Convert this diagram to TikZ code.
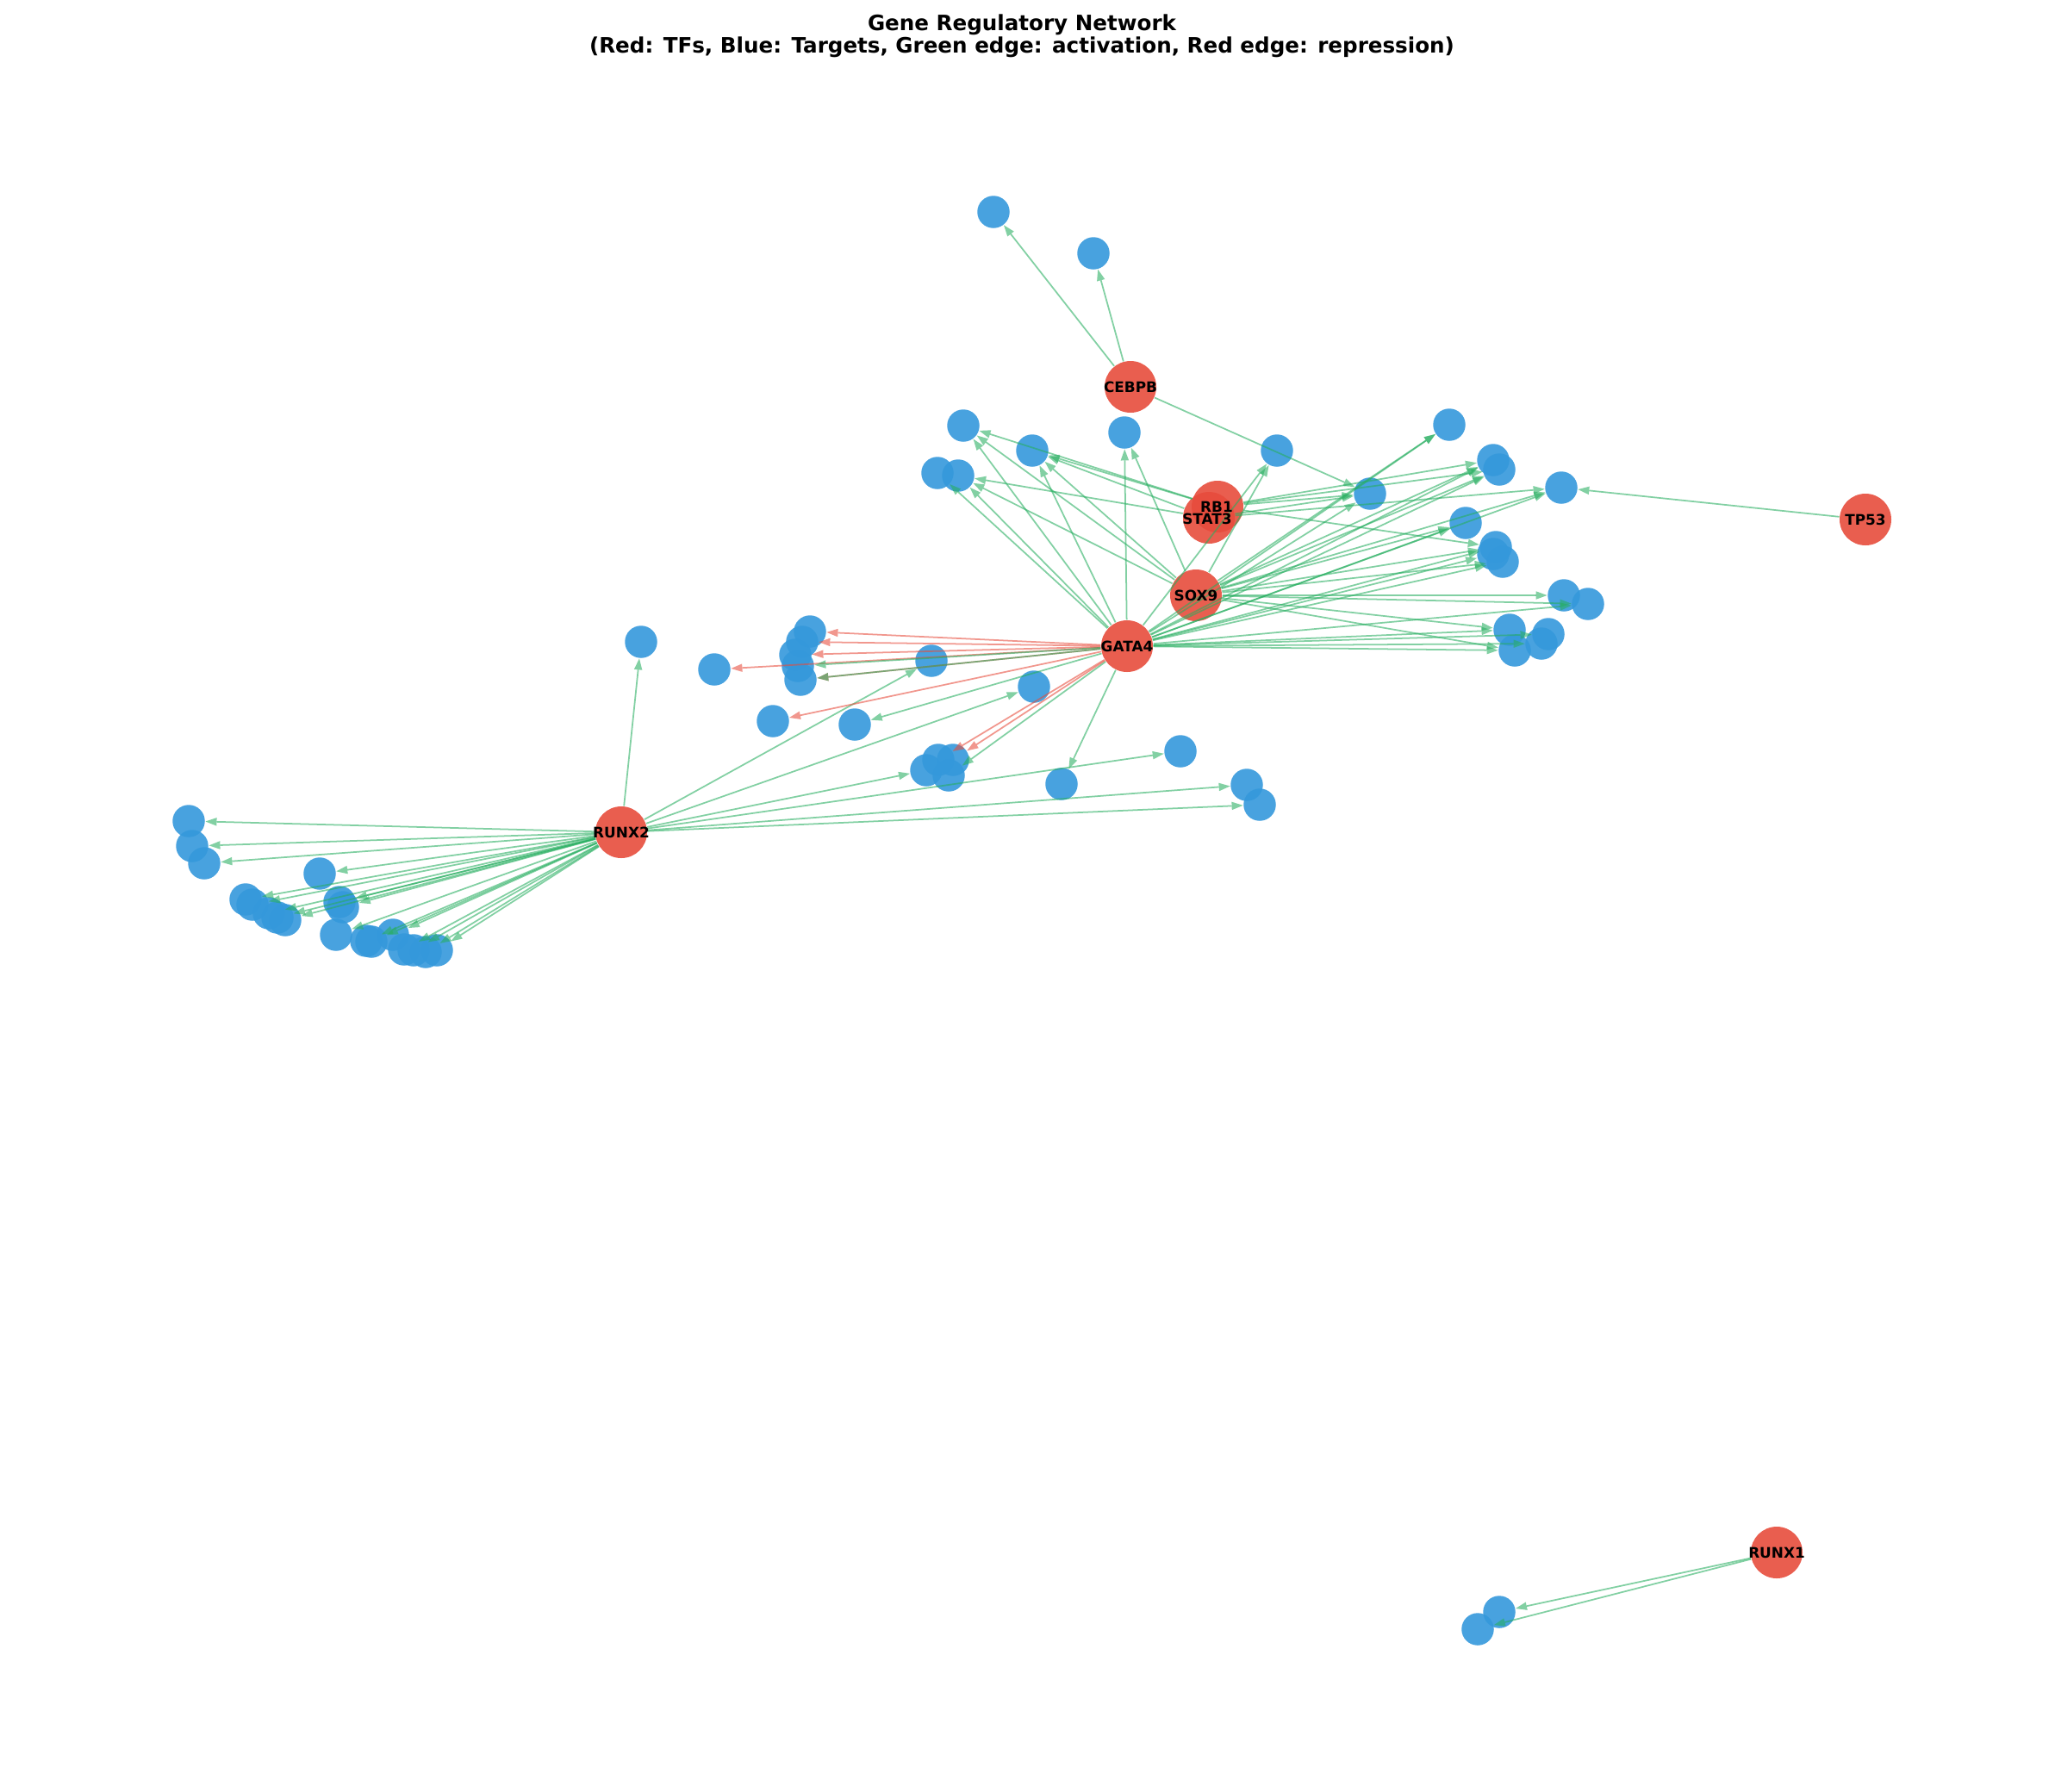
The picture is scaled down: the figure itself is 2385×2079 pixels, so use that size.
\documentclass[tikz,border=0pt]{standalone}
\usepackage{fontspec}
\setmainfont{DejaVu Sans}
\usetikzlibrary{arrows.meta}
\definecolor{tfred}{HTML}{E74C3C}
\definecolor{tgblue}{HTML}{3498DB}
\definecolor{actgreen}{HTML}{27AE60}

\begin{document}
\begin{tikzpicture}[x=0.1mm,y=-0.1mm,>={Triangle[length=1.3mm,width=0.95mm,line width=0pt]}]
	\tikzstyle{tf} = [circle, fill=tfred, fill opacity=0.9, minimum size=6mm, inner sep=0pt]
	\tikzstyle{tg} = [circle, fill=tgblue, fill opacity=0.9, minimum size=3.75mm, inner sep=0pt]
	\tikzstyle{tflab} = [font=\bfseries\fontsize{4.8}{5.5}\selectfont, inner sep=0pt]
	\tikzstyle{act} = [->, color=actgreen, opacity=0.58, line width=0.5pt]
	\tikzstyle{rep} = [->, color=tfred, opacity=0.58, line width=0.5pt]
	\useasboundingbox (0,0) rectangle (2385,2079);

	\node [font=\bfseries\fontsize{7}{7.4}\selectfont, align=center] (title) at (1186,42) {Gene Regulatory Network\\(Red: TFs, Blue: Targets, Green edge: activation, Red edge: repression)};

	% transcription factors
	\node [tf] (cebpb) at (1312,449) {};
	\node [tf] (rb1) at (1413,588) {};
	\node [tf] (stat3) at (1403,601) {};
	\node [tf] (sox9) at (1388,691) {};
	\node [tf] (gata4) at (1308,750) {};
	\node [tf] (tp53) at (2165,603) {};
	\node [tf] (runx2) at (721,966) {};
	\node [tf] (runx1) at (2062,1802) {};

	% targets, upper right
	\node [tg] (t1) at (1153,246) {};
	\node [tg] (t2) at (1269,294) {};
	\node [tg] (t3) at (1305,502) {};
	\node [tg] (t4) at (1118,494) {};
	\node [tg] (t5) at (1198,523) {};
	\node [tg] (t6) at (1088,549) {};
	\node [tg] (t7) at (1112,552) {};
	\node [tg] (t8) at (1482,523) {};
	\node [tg] (t9) at (1590,573) {};
	\node [tg] (t10) at (1682,493) {};
	\node [tg] (t11) at (1733,534) {};
	\node [tg] (t12) at (1740,545) {};
	\node [tg] (t13) at (1812,566) {};
	\node [tg] (t14) at (1701,607) {};
	\node [tg] (t15) at (1736,635) {};
	\node [tg] (t16) at (1733,643) {};
	\node [tg] (t17) at (1744,652) {};
	\node [tg] (t18) at (1815,691) {};
	\node [tg] (t19) at (1843,701) {};
	\node [tg] (t20) at (1752,731) {};
	\node [tg] (t21) at (1758,755) {};
	\node [tg] (t22) at (1797,736) {};
	\node [tg] (t23) at (1789,747) {};

	% targets, middle
	\node [tg] (c1) at (940,733) {};
	\node [tg] (c2) at (931,745) {};
	\node [tg] (c3) at (923,760) {};
	\node [tg] (c4) at (926,773) {};
	\node [tg] (c5) at (929,789) {};
	\node [tg] (d1) at (829,777) {};
	\node [tg] (d2) at (1081,767) {};
	\node [tg] (d3) at (897,837) {};
	\node [tg] (d4) at (992,841) {};
	\node [tg] (d5) at (1200,797) {};
	\node [tg] (d6a) at (1075,894) {};
	\node [tg] (d6b) at (1089,882) {};
	\node [tg] (d6c) at (1106,882) {};
	\node [tg] (d6d) at (1101,900) {};
	\node [tg] (d7) at (1232,910) {};
	\node [tg] (d8) at (1370,872) {};
	\node [tg] (d9) at (1447,911) {};
	\node [tg] (d10) at (1462,934) {};
	\node [tg] (e1) at (744,745) {};

	% targets, left
	\node [tg] (f1) at (219,953) {};
	\node [tg] (f2) at (223,982) {};
	\node [tg] (f3) at (237,1002) {};
	\node [tg] (f4) at (371,1014) {};
	\node [tg] (f5) at (285,1044) {};
	\node [tg] (f6) at (293,1050) {};
	\node [tg] (f7) at (312,1060) {};
	\node [tg] (f8) at (322,1065) {};
	\node [tg] (f9) at (331,1068) {};
	\node [tg] (f10) at (394,1047) {};
	\node [tg] (f11) at (398,1053) {};
	\node [tg] (f12) at (390,1085) {};
	\node [tg] (f13) at (425,1092) {};
	\node [tg] (f14) at (431,1093) {};
	\node [tg] (f15) at (456,1085) {};
	\node [tg] (f16) at (469,1102) {};
	\node [tg] (f17) at (480,1103) {};
	\node [tg] (f18) at (494,1105) {};
	\node [tg] (f19) at (507,1103) {};

	% targets, bottom right
	\node [tg] (g1) at (1740,1871) {};
	\node [tg] (g2) at (1715,1891) {};

	% edges
	\draw [act] (cebpb) edge (t1) edge (t2) edge (t9);
	\draw [act] (tp53) edge (t13);
	\draw [act] (runx1) edge (g1) edge (g2);
	\draw [act] (runx2) edge (e1) edge (d2) edge (d5) edge (d6a) edge (d8) edge (d9) edge (d10);
	\draw [act] (runx2) edge (f1) edge (f2) edge (f3) edge (f4) edge (f5) edge (f6) edge (f7) edge (f8) edge (f9) edge (f10);
	\draw [act] (runx2) edge (f11) edge (f12) edge (f13) edge (f14) edge (f15) edge (f16) edge (f17) edge (f18) edge (f19);
	\draw [rep] (gata4) edge (c1) edge (c2) edge (c3) edge (c5) edge (d1) edge (d3) edge (d6b) edge (d6c);
	\draw [act] (gata4) edge (c4) edge (c5) edge (d4) edge (d7) edge (d6d);
	\draw [act] (gata4) edge (t3) edge (t4) edge (t5) edge (t6) edge (t7) edge (t8) edge (t9) edge (t10) edge (t11) edge (t12) edge (t13);
	\draw [act] (gata4) edge (t14) edge (t15) edge (t16) edge (t17) edge (t19) edge (t20) edge (t21) edge (t22) edge (t23);
	\draw [act] (sox9) edge (t3) edge (t4) edge (t5) edge (t7) edge (t8) edge (t10) edge (t11) edge (t12) edge (t13);
	\draw [act] (sox9) edge (t14) edge (t15) edge (t17) edge (t18) edge (t19) edge (t20) edge (t21);
	\draw [act] (rb1) edge (t4) edge (t5) edge (t9) edge (t11) edge (t12) edge (t15);
	\draw [act] (stat3) edge (t5) edge (t7) edge (t9) edge (t13);

	% labels
	\node [tflab] (cebpb-l) at (cebpb) {CEBPB};
	\node [tflab] (rb1-l) at (1412,588) {RB1};
	\node [tflab] (stat3-l) at (1401,602) {STAT3};
	\node [tflab] (sox9-l) at (sox9) {SOX9};
	\node [tflab] (gata4-l) at (gata4) {GATA4};
	\node [tflab] (tp53-l) at (tp53) {TP53};
	\node [tflab] (runx2-l) at (runx2) {RUNX2};
	\node [tflab] (runx1-l) at (runx1) {RUNX1};
\end{tikzpicture}
\end{document}
